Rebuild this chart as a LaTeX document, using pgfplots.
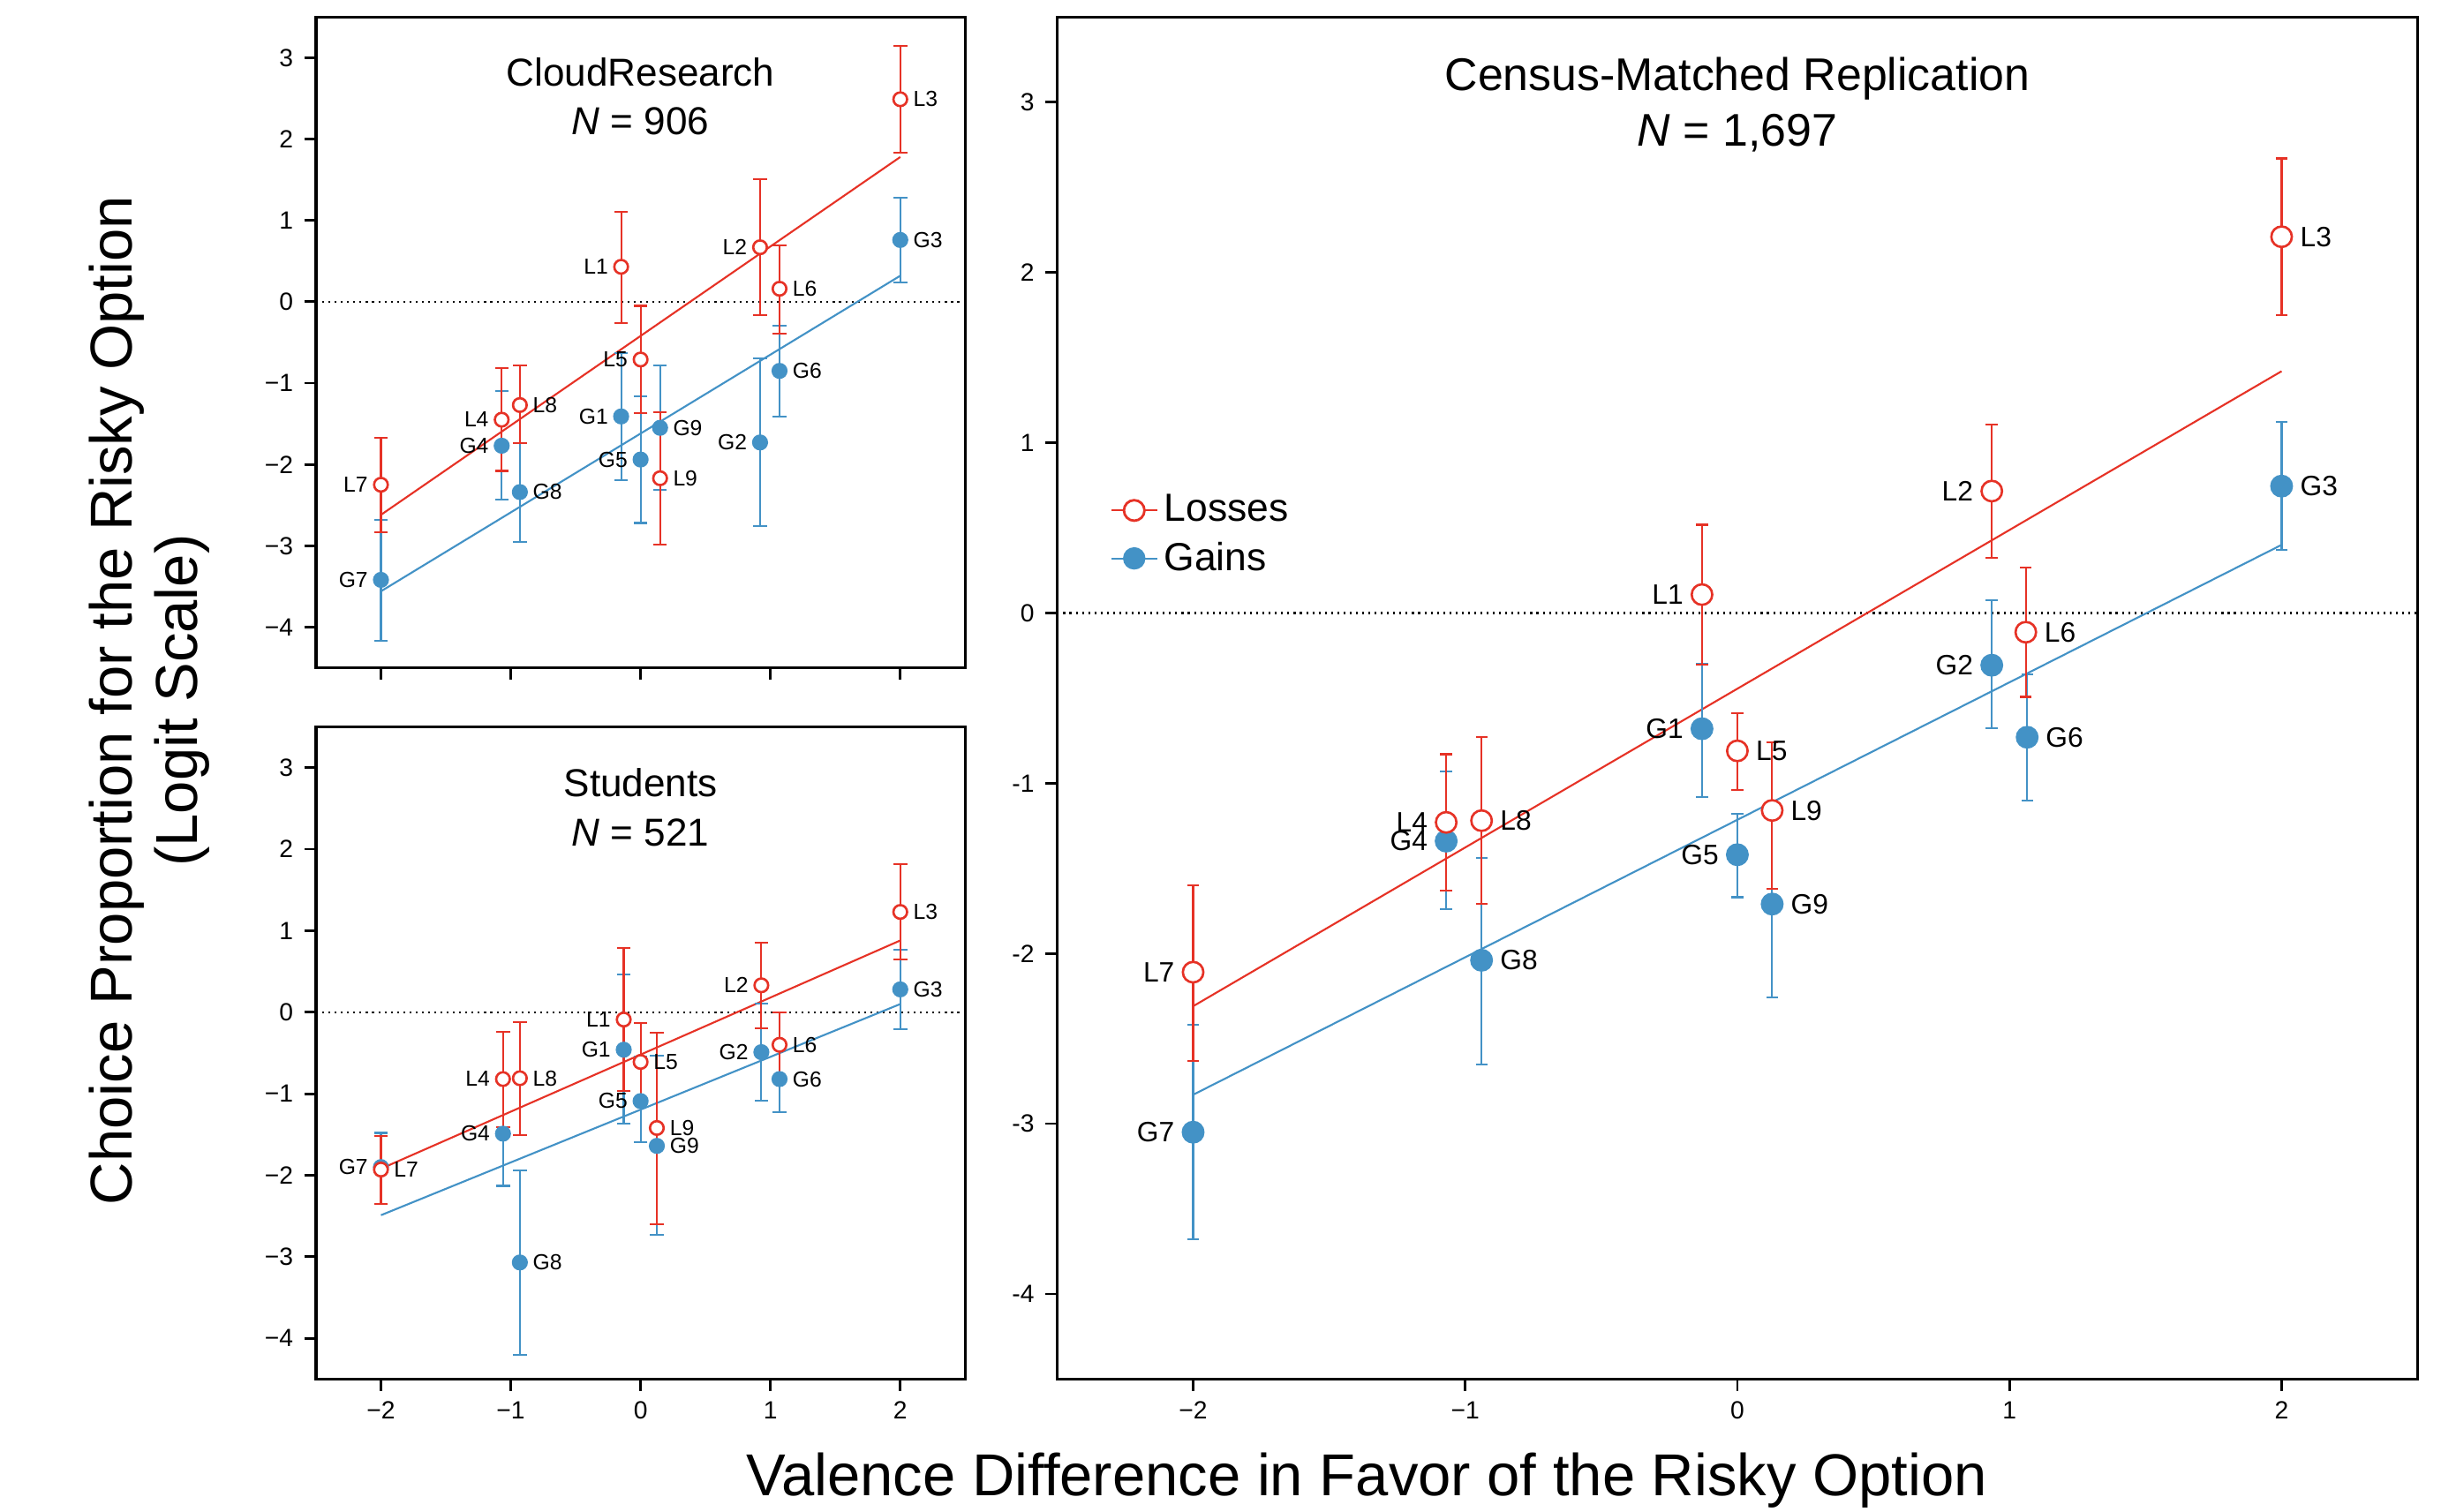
\documentclass[border=0pt]{standalone}
\usepackage{fontspec}
\setmainfont{Liberation Sans}
\usepackage{pgfplots}
\usepackage{pgfplotstable}
\pgfplotsset{compat=1.18}

\definecolor{lossred}{RGB}{230,50,38}
\definecolor{gainblue}{RGB}{67,146,198}

% label placed left / right of its point
\newcommand\lft[1]{\makebox[0pt][r]{#1\hspace{4.2pt}}}
\newcommand\rgt[1]{\makebox[0pt][l]{\hspace{4.2pt}#1}}
\newcommand\Lft[1]{\makebox[0pt][r]{#1\hspace{6pt}}}
\newcommand\Rgt[1]{\makebox[0pt][l]{\hspace{6pt}#1}}

% columns: x, y, error plus, error minus, label
% CloudResearch
\pgfplotstableread{
x y ep em lab
-0.15 0.43 0.68 0.69 \lft{L1}
0.92 0.67 0.84 0.83 \lft{L2}
2.00 2.49 0.66 0.66 \rgt{L3}
-1.07 -1.45 0.63 0.63 \lft{L4}
0.00 -0.71 0.66 0.66 \lft{L5}
1.07 0.16 0.53 0.55 \rgt{L6}
-2.00 -2.25 0.58 0.58 \lft{L7}
-0.93 -1.27 0.49 0.47 \rgt{L8}
0.15 -2.17 0.81 0.82 \rgt{L9}
}\crloss
\pgfplotstableread{
x y ep em lab
-0.15 -1.41 0.78 0.78 \lft{G1}
0.92 -1.73 1.03 1.03 \lft{G2}
2.00 0.76 0.52 0.52 \rgt{G3}
-1.07 -1.77 0.67 0.66 \lft{G4}
0.00 -1.94 0.78 0.78 \lft{G5}
1.07 -0.85 0.56 0.56 \rgt{G6}
-2.00 -3.42 0.74 0.75 \lft{G7}
-0.93 -2.34 0.60 0.61 \rgt{G8}
0.15 -1.55 0.77 0.76 \rgt{G9}
}\crgain
% Students
\pgfplotstableread{
x y ep em lab
-0.13 -0.09 0.88 0.88 \lft{L1}
0.93 0.33 0.52 0.53 \lft{L2}
2.00 1.23 0.59 0.58 \rgt{L3}
-1.06 -0.82 0.58 0.59 \lft{L4}
0.00 -0.61 0.48 0.51 \rgt{L5}
1.07 -0.40 0.40 0.40 \rgt{L6}
-2.00 -1.93 0.41 0.42 \rgt{L7}
-0.93 -0.81 0.69 0.70 \rgt{L8}
0.125 -1.42 1.17 1.18 \rgt{L9}
}\stloss
\pgfplotstableread{
x y ep em lab
-0.13 -0.46 0.92 0.91 \lft{G1}
0.93 -0.49 0.60 0.60 \lft{G2}
2.00 0.28 0.49 0.49 \rgt{G3}
-1.06 -1.49 0.64 0.64 \lft{G4}
0.00 -1.09 0.55 0.50 \lft{G5}
1.07 -0.82 0.40 0.41 \rgt{G6}
-2.00 -1.90 0.42 0.45 \lft{G7}
-0.93 -3.07 1.13 1.13 \rgt{G8}
0.125 -1.64 1.11 1.09 \rgt{G9}
}\stgain
% Census-matched
\pgfplotstableread{
x y ep em lab
-0.13 0.108 0.41 0.41 \Lft{L1}
0.935 0.716 0.39 0.39 \Lft{L2}
2.00 2.21 0.46 0.46 \Rgt{L3}
-1.07 -1.23 0.40 0.40 \Lft{L4}
0.00 -0.81 0.22 0.23 \Rgt{L5}
1.06 -0.113 0.38 0.38 \Rgt{L6}
-2.00 -2.11 0.51 0.52 \Lft{L7}
-0.94 -1.22 0.49 0.49 \Rgt{L8}
0.128 -1.16 0.40 0.46 \Rgt{L9}
}\celoss
\pgfplotstableread{
x y ep em lab
-0.13 -0.68 0.38 0.40 \Lft{G1}
0.935 -0.307 0.38 0.37 \Lft{G2}
2.00 0.745 0.375 0.375 \Rgt{G3}
-1.07 -1.34 0.41 0.40 \Lft{G4}
0.00 -1.42 0.24 0.25 \Lft{G5}
1.065 -0.73 0.37 0.37 \Rgt{G6}
-2.00 -3.05 0.63 0.63 \Lft{G7}
-0.94 -2.04 0.60 0.61 \Rgt{G8}
0.128 -1.71 0.55 0.55 \Rgt{G9}
}\cegain

\pgfplotsset{
  panel/.style={
    scale only axis, anchor=south west,
    xmin=-2.5, xmax=2.5, ymin=-4.5, ymax=3.5,
    xtick={-2,-1,0,1,2}, ytick={-4,-3,-2,-1,0,1,2,3},
    xtick pos=bottom, ytick pos=left,
    tick align=outside, major tick length=3.8pt,
    axis line style={line width=0.9pt},
    every tick/.style={black, line width=0.8pt},
    tick label style={font=\fontsize{8}{9}\selectfont},
    clip=false,
  },
  pts/.style n args={4}{% color, fill, marksize, capsize
    #1, only marks, mark=*, mark size=#3,
    mark options={fill=#2, draw=#1, line width=0.75pt},
    error bars/.cd, y dir=both, y explicit,
    error bar style={line width=0.6pt, #1},
    error mark=-,
    error mark options={rotate=90, mark size=#4, line width=0.6pt, #1},
    /pgfplots/.cd,
    nodes near coords, point meta=explicit symbolic,
  },
  labsmall/.style={every node near coord/.append style={anchor=center, text=black, inner sep=0pt, font=\fontsize{7}{8}\selectfont}},
  lablarge/.style={every node near coord/.append style={anchor=center, text=black, inner sep=0pt, font=\fontsize{9}{10}\selectfont}},
  fitline/.style={#1, line width=0.6pt, forget plot},
  zeroline/.style={black, line width=0.6pt, dash pattern=on 0.6pt off 1.4pt, forget plot},
}

\begin{document}
\begin{tikzpicture}
\path[use as bounding box] (0,0) rectangle (784pt,485.5pt);

% ---------- CloudResearch ----------
\begin{axis}[panel, at={(101.5pt,271pt)}, width=208.5pt, height=209pt,
  xticklabels={},
  yticklabels={−4,−3,−2,−1,0,1,2,3}]
\addplot[zeroline] coordinates {(-2.5,0) (2.5,0)};
\addplot[fitline=lossred] coordinates {(-2,-2.62) (2,1.78)};
\addplot[fitline=gainblue] coordinates {(-2,-3.56) (2,0.32)};
\addplot[pts={gainblue}{gainblue}{2.2pt}{2.2pt}, labsmall] table[x=x, y=y, y error plus=ep, y error minus=em, meta=lab] {\crgain};
\addplot[pts={lossred}{white}{2.2pt}{2.2pt}, labsmall] table[x=x, y=y, y error plus=ep, y error minus=em, meta=lab] {\crloss};
\node[font=\fontsize{12.5}{14}\selectfont] at (rel axis cs:0.5,0.916) {CloudResearch};
\node[font=\fontsize{12.5}{14}\selectfont] at (rel axis cs:0.5,0.840) {\textit{N} = 906};
\end{axis}

% ---------- Students ----------
\begin{axis}[panel, at={(101.5pt,42.5pt)}, width=208.5pt, height=209.5pt,
  xticklabels={−2,−1,0,1,2},
  yticklabels={−4,−3,−2,−1,0,1,2,3}]
\addplot[zeroline] coordinates {(-2.5,0) (2.5,0)};
\addplot[fitline=lossred] coordinates {(-2,-1.92) (2,0.88)};
\addplot[fitline=gainblue] coordinates {(-2,-2.49) (2,0.10)};
\addplot[pts={gainblue}{gainblue}{2.2pt}{2.2pt}, labsmall] table[x=x, y=y, y error plus=ep, y error minus=em, meta=lab] {\stgain};
\addplot[pts={lossred}{white}{2.2pt}{2.2pt}, labsmall] table[x=x, y=y, y error plus=ep, y error minus=em, meta=lab] {\stloss};
\node[font=\fontsize{12.5}{14}\selectfont] at (rel axis cs:0.5,0.914) {Students};
\node[font=\fontsize{12.5}{14}\selectfont] at (rel axis cs:0.5,0.838) {\textit{N} = 521};
\end{axis}

% ---------- Census-matched ----------
\begin{axis}[panel, at={(339.5pt,42.5pt)}, width=437pt, height=437.5pt,
  xticklabels={−2,−1,0,1,2},
  yticklabels={-4,-3,-2,-1,0,1,2,3},
  legend style={at={(rel axis cs:0.032,0.659)}, anchor=north west, draw=none, fill=none,
    font=\fontsize{12.6}{15}\selectfont, row sep=1pt},
  legend cell align=left,
  legend image code/.code={\draw[mark repeat=2,mark phase=2,#1] plot coordinates {(0pt,0pt) (7.3pt,0pt) (14.6pt,0pt)};}]
\addlegendimage{lossred, line width=0.6pt, mark=*, mark size=3.3pt, mark options={fill=white, line width=0.8pt}}
\addlegendentry{Losses}
\addlegendimage{gainblue, line width=0.6pt, mark=*, mark size=3.3pt, mark options={fill=gainblue}}
\addlegendentry{Gains}
\addplot[zeroline] coordinates {(-2.5,0) (2.5,0)};
\addplot[fitline=lossred] coordinates {(-2,-2.31) (2,1.42)};
\addplot[fitline=gainblue] coordinates {(-2,-2.83) (2,0.40)};
\addplot[pts={gainblue}{gainblue}{3.3pt}{1.9pt}, lablarge, forget plot] table[x=x, y=y, y error plus=ep, y error minus=em, meta=lab] {\cegain};
\addplot[pts={lossred}{white}{3.3pt}{1.9pt}, lablarge, forget plot] table[x=x, y=y, y error plus=ep, y error minus=em, meta=lab] {\celoss};
\node[font=\fontsize{14.7}{17}\selectfont] at (rel axis cs:0.5,0.955) {Census-Matched Replication};
\node[font=\fontsize{14.7}{17}\selectfont] at (rel axis cs:0.5,0.915) {\textit{N} = 1,697};
\end{axis}

% axis titles
\node[rotate=90, align=center, font=\fontsize{19}{21}\selectfont] at (48pt,260.5pt)
  {Choice Proportion for the Risky Option\\(Logit Scale)};
\node[anchor=base, font=\fontsize{19}{21}\selectfont] at (439pt,5pt)
  {Valence Difference in Favor of the Risky Option};
\end{tikzpicture}
\end{document}
